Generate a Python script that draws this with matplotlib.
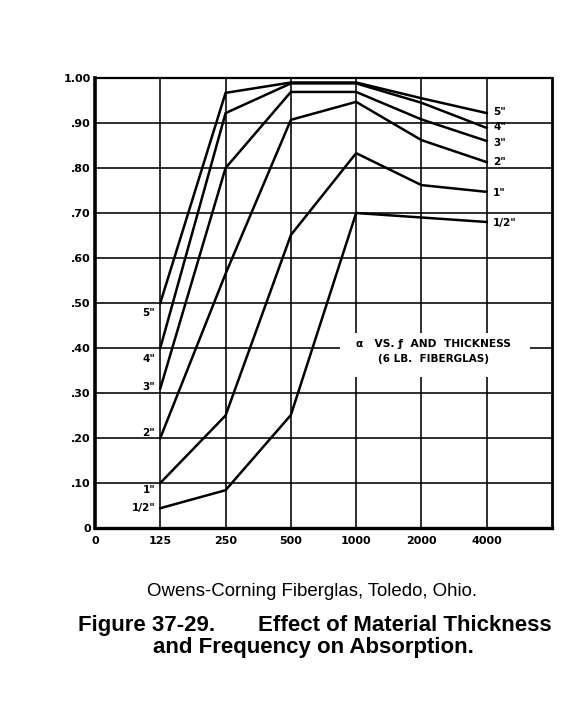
import matplotlib
matplotlib.use('Agg')
import matplotlib.pyplot as plt
from matplotlib.patches import Rectangle

freq_labels = ["125", "250", "500", "1000", "2000", "4000"]
thickness = ['5"', '4"', '3"', '2"', '1"', '1/2"']
a_5in = [0.50, 0.967, 0.99, 0.99, 0.955, 0.922]
a_4in = [0.40, 0.922, 0.988, 0.988, 0.945, 0.889]
a_3in = [0.31, 0.80, 0.969, 0.969, 0.908, 0.86]
a_2in = [0.20, 0.565, 0.907, 0.947, 0.862, 0.813]
a_1in = [0.10, 0.25, 0.651, 0.833, 0.762, 0.747]
a_half = [0.044, 0.084, 0.251, 0.70, 0.69, 0.68]
series = [a_5in, a_4in, a_3in, a_2in, a_1in, a_half]

left_label_y = [0.478, 0.376, 0.313, 0.211, 0.084, 0.044]
right_label_y = [0.924, 0.892, 0.855, 0.813, 0.745, 0.678]

y_ticks = [0.0, 0.1, 0.2, 0.3, 0.4, 0.5, 0.6, 0.7, 0.8, 0.9, 1.0]
y_tick_labels = ["0", ".10", ".20", ".30", ".40", ".50", ".60", ".70", ".80", ".90", "1.00"]

caption_source = "Owens-Corning Fiberglas, Toledo, Ohio."
caption_title = "Figure 37-29.       Effect of Material Thickness"
caption_title2 = "and Frequency on Absorption."

FONT = ['Liberation Sans Narrow', 'DejaVu Sans Condensed', 'DejaVu Sans']
CAP_FONT = ['Liberation Sans', 'DejaVu Sans']

fig = plt.figure(figsize=(5.81, 7.26), dpi=100)
ax = fig.add_axes([95/581, 1-528/726, (552-95)/581, (528-78)/726])

x = list(range(1, len(freq_labels) + 1))
ax.set_xlim(0, 7)
ax.set_ylim(0, 1)

ax.set_xticks(range(0, 7))
ax.set_xticklabels(["0"] + freq_labels, fontfamily=FONT, fontweight='bold', fontsize=8)
ax.set_yticks(y_ticks)
ax.set_yticklabels(y_tick_labels, fontfamily=FONT, fontweight='bold', fontsize=8)
ax.tick_params(length=0, pad=6)
ax.tick_params(axis='y', pad=3)

ax.grid(True, color='black', linewidth=1.15, zorder=0)
ax.set_axisbelow(True)
for side, lw in [('left', 2.6), ('bottom', 2.4), ('right', 2.0), ('top', 1.6)]:
    ax.spines[side].set_linewidth(lw)
    ax.spines[side].set_color('black')

# white box behind annotation text
ax.add_patch(Rectangle((3.75, 0.336), 2.91, 0.097, facecolor='white',
                       edgecolor='none', zorder=1.5))

for vals in series:
    ax.plot(x, vals, color='black', linewidth=1.8, zorder=3,
            solid_joinstyle='miter')

for lab, ly in zip(thickness, left_label_y):
    ax.text(0.92, ly, lab, ha='right', va='center', fontfamily=FONT,
            fontweight='bold', fontsize=7.5, zorder=4)
for lab, ry in zip(thickness, right_label_y):
    ax.text(6.1, ry, lab, ha='left', va='center', fontfamily=FONT,
            fontweight='bold', fontsize=7.5, zorder=4)

ax.text(5.18, 0.408, "α   VS. ƒ  AND  THICKNESS", ha='center', va='center',
        fontfamily=FONT, fontweight='bold', fontsize=7.7, zorder=4)
ax.text(5.18, 0.375, "(6 LB.  FIBERGLAS)", ha='center', va='center',
        fontfamily=FONT, fontweight='bold', fontsize=7.5, zorder=4)

fig.text(312/581, 1-592/726, caption_source,
         ha='center', va='center', fontfamily=CAP_FONT, fontsize=13.4)
fig.text(315/581, 1-625/726, caption_title,
         ha='center', va='center', fontfamily=CAP_FONT,
         fontsize=16, fontweight='bold')
fig.text(313.5/581, 1-647/726, caption_title2,
         ha='center', va='center', fontfamily=CAP_FONT,
         fontsize=16, fontweight='bold')

fig.savefig('out.png', dpi=100, facecolor='white')
